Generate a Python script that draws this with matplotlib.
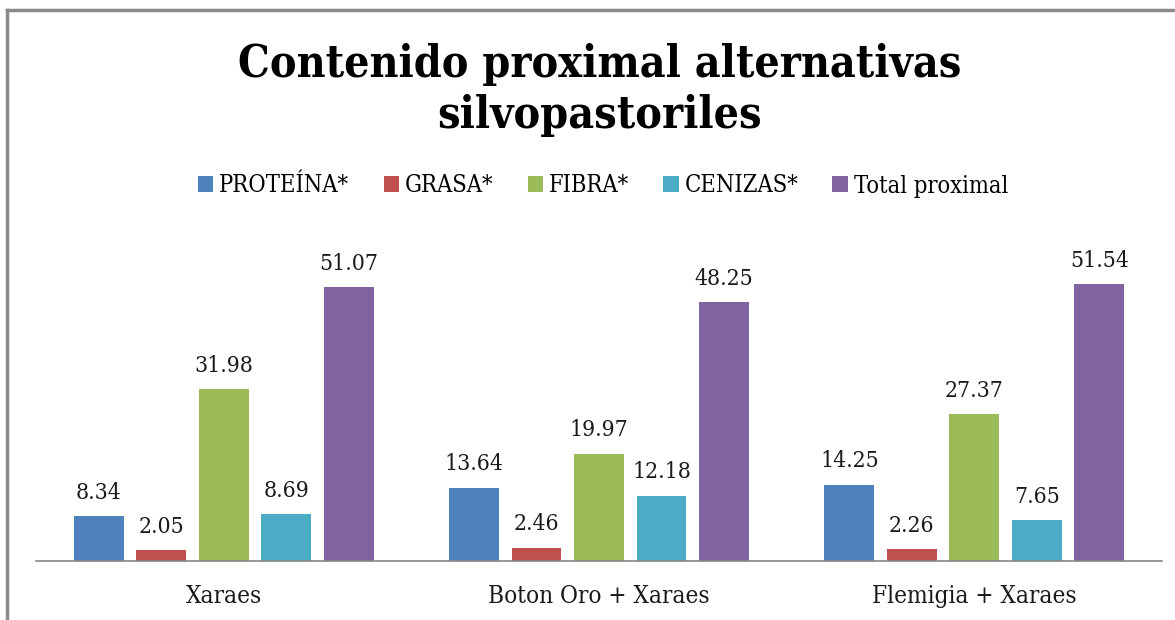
import matplotlib
matplotlib.use("Agg")
import matplotlib.pyplot as plt
from matplotlib import font_manager as fm
from matplotlib.lines import Line2D
import numpy as np

categories = ["Xaraes", "Boton Oro + Xaraes", "Flemigia + Xaraes"]
series_names = ["PROTEÍNA*", "GRASA*", "FIBRA*", "CENIZAS*", "Total proximal"]
proteina = [8.34, 13.64, 14.25]
grasa = [2.05, 2.46, 2.26]
fibra = [31.98, 19.97, 27.37]
cenizas = [8.69, 12.18, 7.65]
total = [51.07, 48.25, 51.54]
colors = ["#4F81BD", "#C0504D", "#9BBB59", "#4BACC6", "#8064A2"]
title = "Contenido proximal alternativas\nsilvopastoriles"

series = [proteina, grasa, fibra, cenizas, total]

W, H = 1175, 620
fig = plt.figure(figsize=(W / 100, H / 100), dpi=100)
ax = fig.add_axes([36 / W, 1 - 561 / H, (1162 - 36) / W, (561 - 239) / H])

serif = ["DejaVu Serif"]
st = "condensed"
x = np.arange(len(categories))
step = 0.1665
width = 0.133
for i, (vals, c, name) in enumerate(zip(series, colors, series_names)):
    pos = x + (i - 2) * step
    bars = ax.bar(pos, vals, width=width, color=c, label=name, zorder=2)
    for b, v in zip(bars, vals):
        ax.text(b.get_x() + b.get_width() / 2, v + 2.3, f"{v:.2f}",
                ha="center", va="bottom", fontsize=16.5, family=serif, stretch=st, color="#1a1a1a")

ax.set_xlim(-0.5, len(categories) - 0.5)
ax.set_ylim(0, 60)
for s in ["top", "right", "left"]:
    ax.spines[s].set_visible(False)
ax.spines["bottom"].set_color("#868686")
ax.spines["bottom"].set_linewidth(1.2)
ax.set_yticks([])
ax.set_xticks(x)
ax.set_xticklabels(categories, family=serif, fontsize=17.5, stretch=st, color="#1a1a1a")
ax.tick_params(axis="x", length=0, pad=17)

fig.text(600 / W, 1 - 90 / H, title, ha="center", va="center", fontsize=32,
         fontweight="bold", family=serif, stretch=st, linespacing=1.25)

leg = fig.legend(*ax.get_legend_handles_labels(), loc="center", bbox_to_anchor=(603 / W, 1 - 186 / H),
                 ncol=5, frameon=False, prop=fm.FontProperties(family=serif, size=17, stretch=st),
                 handlelength=0.65, handleheight=0.65, handletextpad=0.25, columnspacing=1.45)

fig.add_artist(Line2D([7 / W, 7 / W], [0, 1 - 10 / H], transform=fig.transFigure, color="#8a8a8a", lw=2.5))
fig.add_artist(Line2D([7 / W, 1], [1 - 10 / H, 1 - 10 / H], transform=fig.transFigure, color="#8a8a8a", lw=2.5))

fig.savefig("out.png", dpi=100)
